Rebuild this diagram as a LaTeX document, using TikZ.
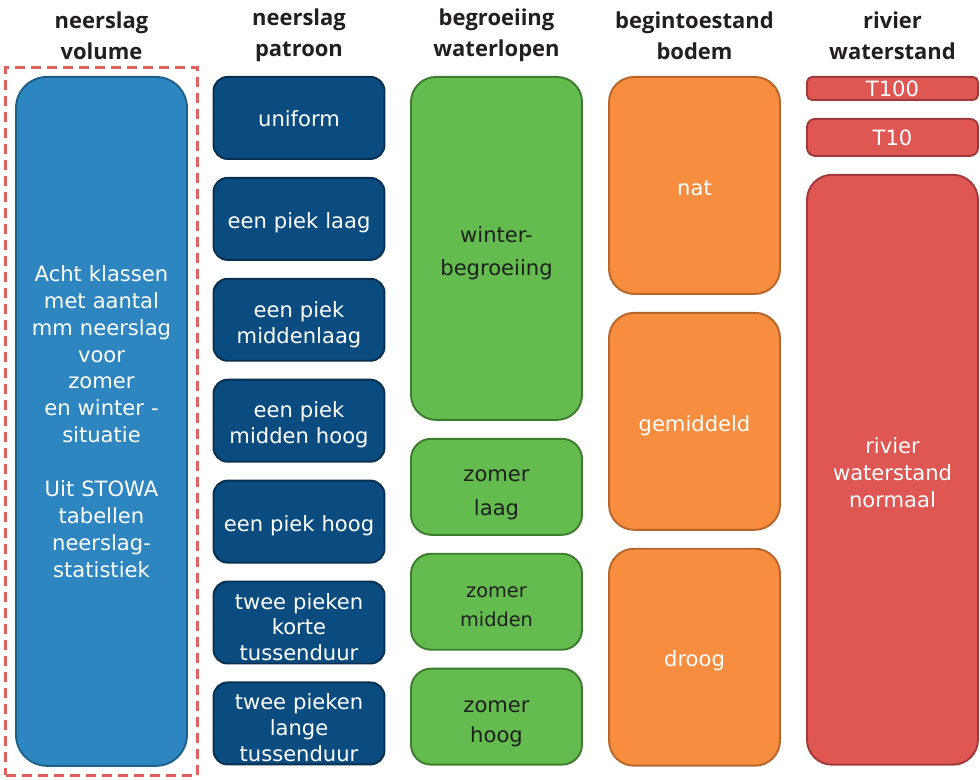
\documentclass[tikz,border=0pt]{standalone}
\usepackage{fontspec}
\setmainfont{DejaVu Sans}
\newfontfamily\headfont{Open Sans}
\usetikzlibrary{positioning}
\usetikzlibrary{fit}
\definecolor{volumeblue}{RGB}{46,134,193}
\definecolor{volumeline}{RGB}{31,95,139}
\definecolor{patroonblue}{RGB}{11,76,128}
\definecolor{patroonline}{RGB}{6,47,80}
\definecolor{groeigreen}{RGB}{100,188,79}
\definecolor{groeiline}{RGB}{61,125,46}
\definecolor{bodemorange}{RGB}{246,141,63}
\definecolor{bodemline}{RGB}{184,101,42}
\definecolor{rivierred}{RGB}{223,87,83}
\definecolor{rivierline}{RGB}{160,58,56}
\definecolor{headtext}{RGB}{35,31,32}
\definecolor{dashred}{RGB}{224,96,92}
\tikzset{
cell/.style={
	rectangle,
	draw,
	minimum width=3.42cm,
	text width=3.3cm,
	align=center,
	line width=1.1pt,
	inner sep=0pt,
	text=white,
	font=\fontsize{12}{15.3}\selectfont
},
drop/.style={
	execute at begin node={\rule{0pt}{#1}}
},
drop/.default=13.6pt,
patroon/.style={
	cell,
	fill=patroonblue,
	draw=patroonline,
	rounded corners=0.28cm,
	minimum height=1.64cm,
	font=\fontsize{12}{14.7}\selectfont
},
groei/.style={
	cell,
	fill=groeigreen,
	draw=groeiline,
	text=black!88,
	rounded corners=0.4cm,
	minimum height=1.92cm
},
bodem/.style={
	cell,
	fill=bodemorange,
	draw=bodemline,
	rounded corners=0.5cm,
	minimum height=4.34cm
},
rivier/.style={
	cell,
	fill=rivierred,
	draw=rivierline
},
head/.style={
	align=center,
	inner sep=0pt,
	text=headtext,
	font=\headfont\bfseries\fontsize{12.5}{17.6}\selectfont
},
dashframe/.style={
	draw=dashred,
	line width=1.7pt,
	dash pattern=on 0.2cm off 0.12cm,
	inner xsep=0.19cm,
	inner ysep=0.17cm
}
}
\begin{document}
\begin{tikzpicture}[x=0.02cm, y=-0.02cm]
\useasboundingbox (0,0) rectangle (980,780);

% headers
\node (hvolume)   [head] at (101.5,35.5) {neerslag\\volume};
\node (hpatroon)  [head] at (299,35.5)   {neerslag\\patroon};
\node (hgroei)    [head] at (496.5,35.5) {begroeiing\\waterlopen};
\node (hbodem)    [head] at (694.5,35.5) {begintoestand\\bodem};
\node (hrivier)   [head] at (892.5,35.5) {rivier\\waterstand};

% neerslag volume
\node (volume) [cell, fill=volumeblue, draw=volumeline, rounded corners=0.62cm,
  minimum height=13.78cm, anchor=north] at (101.5,76) {Acht klassen\\
  met aantal\\
  mm neerslag\\
  voor\\
  zomer\\
  en winter -\\
  situatie\\[15.3pt]
  Uit STOWA\\
  tabellen\\
  neerslag-\\
  statistiek};
\node (kader) [dashframe, fit=(volume)] {};

% neerslag patroon
\node (uniform)    [patroon, drop=10.2pt, anchor=north] at (299,76) {uniform};
\node (pieklaag)   [patroon, drop, below=0.34cm of uniform]        {een piek laag};
\node (piekml)     [patroon, drop=14.8pt, below=0.34cm of pieklaag] {een piek\\middenlaag};
\node (piekmh)     [patroon, drop=13.7pt, below=0.34cm of piekml]   {een piek\\midden hoog};
\node (piekhoog)   [patroon, drop, below=0.34cm of piekmh]         {een piek hoog};
\node (tweekort)   [patroon, drop=14.2pt, below=0.34cm of piekhoog]
  {twee pieken\\korte\\tussenduur};
\node (tweelang)   [patroon, drop=14.2pt, below=0.34cm of tweekort]
  {twee pieken\\lange\\tussenduur};

% begroeiing waterlopen
\node (winter)     [groei, drop=14.2pt, minimum height=6.86cm, rounded corners=0.5cm,
  anchor=north, font=\fontsize{12}{18.9}\selectfont] at (496.5,76) {winter-\\begroeiing};
\node (zomerlaag)  [groei, drop=15.6pt, below=0.34cm of winter,
  font=\fontsize{12}{19.2}\selectfont] {zomer\\laag};
\node (zomermid)   [groei, drop=12.2pt, below=0.34cm of zomerlaag,
  font=\fontsize{11}{16.6}\selectfont] {zomer\\midden};
\node (zomerhoog)  [groei, drop=15pt, below=0.34cm of zomermid,
  font=\fontsize{12}{17.2}\selectfont] {zomer\\hoog};

% begintoestand bodem
\node (nat)        [bodem, drop=11.3pt, anchor=north] at (694.5,76) {nat};
\node (gemiddeld)  [bodem, drop, below=0.34cm of nat]       {gemiddeld};
\node (droog)      [bodem, drop, below=0.34cm of gemiddeld] {droog};

% rivier waterstand
\node (tcent)      [rivier, rounded corners=0.1cm, minimum height=0.46cm, anchor=north]
  at (892.5,76) {T100};
\node (ttien)      [rivier, rounded corners=0.16cm, minimum height=0.74cm,
  below=0.34cm of tcent] {T10};
\node (normaal)    [rivier, drop=12.5pt, rounded corners=0.5cm, minimum height=11.8cm,
  below=0.34cm of ttien] {rivier\\waterstand\\normaal};

\end{tikzpicture}
\end{document}
